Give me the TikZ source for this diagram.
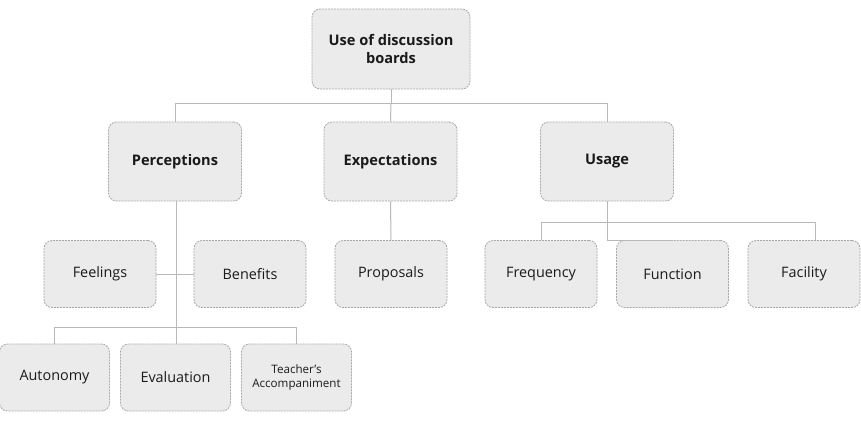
\documentclass[tikz,border=0pt]{standalone}
\usepackage{fontspec}
\setmainfont{Open Sans}
\definecolor{boxfill}{HTML}{EBEBEB}
\definecolor{boxline}{HTML}{A8A8A8}
\definecolor{linkline}{HTML}{B8B8B8}
\definecolor{txt}{HTML}{1A1A1A}
\tikzset{
  box/.style={draw=boxline, fill=boxfill, dash pattern=on 2pt off 1pt, line width=0.8pt, rounded corners=8pt, align=center, text=txt, inner sep=2pt},
  toplvl/.style={box, minimum width=158pt, minimum height=80pt, font=\bfseries\fontsize{14.6}{18}\selectfont},
  lvlone/.style={box, minimum width=133pt, minimum height=79pt, font=\bfseries\fontsize{14.6}{18}\selectfont},
  lvltwo/.style={box, minimum width=112pt, minimum height=67pt, font=\fontsize{14.4}{17}\selectfont},
  lvlthree/.style={box, minimum width=110pt, minimum height=67pt, font=\fontsize{14.4}{17}\selectfont},
  link/.style={draw=linkline, line width=1pt},
}
\begin{document}
\begin{tikzpicture}[x=1pt,y=-1pt]
\useasboundingbox (0,0) rectangle (861,424);
\node[toplvl] (root) at (391,49) {Use of discussion\\boards};
\node[lvlone] (perc) at (175,161.5) {Perceptions};
\node[lvlone] (expe) at (390.5,161.5) {Expectations};
\node[lvlone] (usage) at (607,161.5) {Usage};
\node[lvltwo] (feel) at (100,274) {Feelings};
\node[lvltwo] (bene) at (250,274) {Benefits};
\node[lvltwo] (prop) at (391,274) {Proposals};
\node[lvltwo] (freq) at (541,274) {Frequency};
\node[lvltwo] (func) at (672.5,274) {Function};
\node[lvltwo] (faci) at (804,274) {Facility};
\node[lvlthree] (auto) at (54.5,377.5) {Autonomy};
\node[lvlthree] (eval) at (175.5,377.5) {Evaluation};
\node[lvlthree,font=\fontsize{11.6}{14}\selectfont] (teach) at (296.5,377.5) {Teacher’s\\Accompaniment};
\coordinate (j1) at (391,103);
\coordinate (j2) at (607,222);
\coordinate (j3) at (176,327);
\draw[link] (root.south) -- (j1);
\draw[link] (j1) -| (perc.north);
\draw[link] (j1) -- (expe.north);
\draw[link] (j1) -| (usage.north);
\draw[link] (expe.south) -- (prop.north);
\draw[link] (usage.south) -- (j2);
\draw[link] (j2) -| (freq.north);
\draw[link] (j2) -- (func.north -| j2) -- (func.north);
\draw[link] (j2) -| ([xshift=11pt]faci.north);
\draw[link] (feel.east) -- (bene.west);
\draw[link] (perc.south -| j3) -- (j3);
\draw[link] (j3) -| (auto.north);
\draw[link] (j3) -- (eval.north -| j3);
\draw[link] (j3) -| (teach.north);
\end{tikzpicture}
\end{document}
